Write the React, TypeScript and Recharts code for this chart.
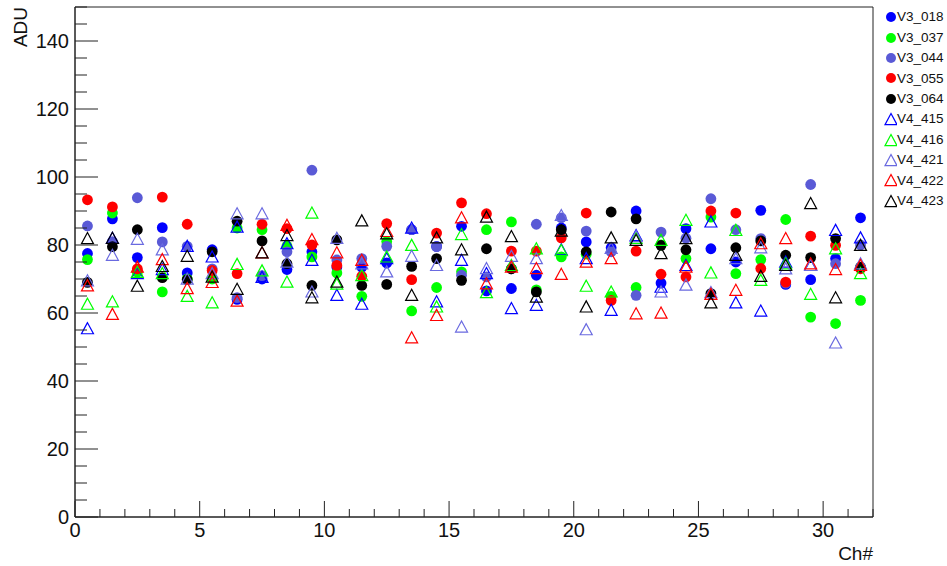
import React from 'react';
import { ScatterChart, Scatter, XAxis, YAxis, ReferenceArea } from 'recharts';

// channel centres (x) and the per-board ADU readings
const channels = [
  0.5, 1.5, 2.5, 3.5, 4.5, 5.5, 6.5, 7.5, 8.5, 9.5, 10.5, 11.5, 12.5, 13.5, 14.5, 15.5,
  16.5, 17.5, 18.5, 19.5, 20.5, 21.5, 22.5, 23.5, 24.5, 25.5, 26.5, 27.5, 28.5, 29.5, 30.5, 31.5,
];

const v3_018 = [77.5, 87.7, 76.3, 85.1, 71.8, 78.6, 64, 70, 72.8, 78, 73.5, 73.5, 74.7, 84.5, 79.6, 85.5, 66.5, 67.2, 71.1, 85, 80.9, 79.2, 90, 68.8, 84.8, 78.9, 75, 90.2, 68.4, 69.8, 76, 88];
const v3_037 = [75.7, 89.4, 72, 66.2, 70, 70, 85, 84.5, 79.7, 76.5, 71.8, 64.9, 81, 60.6, 67.5, 72.1, 84.5, 86.8, 66.8, 76.5, 77.3, 64.9, 67.5, 80, 76, 88.2, 71.6, 75.7, 87.5, 58.8, 56.9, 63.7];
const v3_044 = [85.6, 81, 93.9, 80.9, 79.6, 73, 64.5, 71, 78, 102, 75.6, 76, 79.6, 84.5, 79.5, 71.1, 70.6, 73, 86.1, 88, 84.1, 78, 65.2, 83.8, 82, 93.6, 84.5, 81.9, 68.8, 97.8, 74.5, 80];
const v3_055 = [93.3, 91.2, 73, 94.1, 86.1, 72.5, 71.6, 86.1, 84.8, 80, 74, 70.8, 86.3, 69.8, 83.5, 92.4, 89.2, 78.2, 78.2, 82.1, 89.4, 63.7, 78.2, 71.4, 70.6, 90, 89.4, 73.1, 69.1, 82.6, 79.9, 73];
const v3_064 = [69, 79.5, 84.5, 70.4, 69.8, 78, 87, 81.2, 74.5, 68.1, 81.5, 68.1, 68.4, 73.7, 76, 69.6, 78.9, 73, 66.2, 84.5, 78, 89.7, 87.7, 79.9, 78.6, 65.7, 79.2, 81.2, 77, 76.3, 81.9, 73.5];
const v4_415 = [55.4, 82, 71.6, 72.8, 79.6, 76.5, 85.3, 70.5, 80.4, 75.5, 65.2, 62.6, 76, 85, 63.3, 75.5, 71.6, 61.3, 62.3, 78.6, 76, 60.8, 82.8, 67.6, 74, 86.8, 63, 60.6, 75, 74, 84.3, 82.1];
const v4_416 = [62.6, 63.3, 72, 71.6, 64.9, 63, 74.3, 72.4, 69.1, 89.4, 68.5, 71, 76.5, 79.9, 61.8, 83.1, 66, 74, 78.9, 78.4, 67.9, 66.2, 82, 81.4, 87.3, 71.8, 84.3, 69.6, 74.5, 65.5, 78.9, 71.6];
const v4_421 = [69.5, 77, 81.7, 78.6, 70, 71.6, 89.2, 89.2, 75, 66.2, 82, 74.5, 72.1, 76.7, 74, 55.9, 73.1, 76.7, 76, 88.7, 55.1, 79, 82.5, 66.2, 68.2, 66, 76, 79.2, 73, 74, 51.2, 74.5];
const v4_422 = [68, 59.6, 73.5, 75.7, 67.2, 69, 63.5, 77.7, 85.8, 81.6, 77.7, 75.5, 84, 52.7, 59.3, 88, 68.6, 73.5, 73.1, 71.4, 75, 76, 59.8, 60, 73.5, 65.5, 66.7, 80.4, 81.9, 74.5, 72.8, 74];
const v4_423 = [81.9, 82, 67.9, 73.7, 76.7, 70.6, 67, 77.7, 82.8, 64.5, 69.1, 87.1, 83.3, 65.2, 82.1, 78.6, 88.2, 82.5, 64.7, 84.1, 61.8, 82.1, 81.4, 77.5, 81.9, 63, 77, 70.8, 74, 92.2, 64.5, 79.9];

const xTicks = [0, 1, 2, 3, 4, 5, 6, 7, 8, 9, 10, 11, 12, 13, 14, 15, 16, 17, 18, 19, 20, 21, 22, 23, 24, 25, 26, 27, 28, 29, 30, 31, 32];
const yTicks = [0, 5, 10, 15, 20, 25, 30, 35, 40, 45, 50, 55, 60, 65, 70, 75, 80, 85, 90, 95, 100, 105, 110, 115, 120, 125, 130, 135, 140, 145, 150];

const FONT = '"Liberation Sans", Arial, sans-serif';
const AXIS = '#222';

type Kind = 'circle' | 'triangle';

const series: { name: string; values: number[]; color: string; kind: Kind }[] = [
  { name: 'V3_018', values: v3_018, color: '#0000ff', kind: 'circle' },
  { name: 'V3_037', values: v3_037, color: '#00ff00', kind: 'circle' },
  { name: 'V3_044', values: v3_044, color: '#5a5ad6', kind: 'circle' },
  { name: 'V3_055', values: v3_055, color: '#ff0000', kind: 'circle' },
  { name: 'V3_064', values: v3_064, color: '#000000', kind: 'circle' },
  { name: 'V4_415', values: v4_415, color: '#0000ff', kind: 'triangle' },
  { name: 'V4_416', values: v4_416, color: '#00ff00', kind: 'triangle' },
  { name: 'V4_421', values: v4_421, color: '#6a6ae0', kind: 'triangle' },
  { name: 'V4_422', values: v4_422, color: '#ff0000', kind: 'triangle' },
  { name: 'V4_423', values: v4_423, color: '#000000', kind: 'triangle' },
];

function triPoints(cx: number, cy: number, s: number) {
  return `${cx},${cy - s} ${cx - s},${cy + s * 0.85} ${cx + s},${cy + s * 0.85}`;
}

const makeShape = (color: string, kind: Kind) => (props: any) => {
  const { cx, cy } = props;
  if (cx == null || cy == null) return <g />;
  if (kind === 'circle') return <circle cx={cx} cy={cy} r={5.4} fill={color} />;
  return <polygon points={triPoints(cx, cy, 6)} fill="none" stroke={color} strokeWidth={1.2} />;
};

const XTick = (props: any) => {
  const { x, y, payload } = props;
  const v = payload.value;
  const major = v % 5 === 0;
  return (
    <g>
      <line x1={x} x2={x} y1={y} y2={y - (major ? 16 : 8)} stroke={AXIS} />
      {major && (
        <text x={x} y={y + 20} textAnchor="middle" fontSize={20} fontFamily={FONT} fill="#111">
          {v}
        </text>
      )}
    </g>
  );
};

const YTick = (props: any) => {
  const { x, y, payload } = props;
  const v = payload.value;
  const major = v % 20 === 0;
  return (
    <g>
      <line x1={x} x2={x + (major ? 23 : 12)} y1={y} y2={y} stroke={AXIS} />
      {major && v <= 140 && (
        <text x={x - 6} y={y} dy="0.36em" textAnchor="end" fontSize={20} fontFamily={FONT} fill="#111">
          {v}
        </text>
      )}
    </g>
  );
};

function LegendBox() {
  return (
    <div style={{ position: 'absolute', left: 882, top: 7, width: 65 }}>
      {series.map((s) => (
        <div key={s.name} style={{ display: 'flex', alignItems: 'center', height: 20.4 }}>
          <svg width={15} height={16} style={{ flex: 'none' }}>
            {s.kind === 'circle' ? (
              <circle cx={9} cy={8} r={5} fill={s.color} />
            ) : (
              <polygon points={triPoints(9, 8.5, 6)} fill="none" stroke={s.color} strokeWidth={1.2} />
            )}
          </svg>
          <span style={{ fontFamily: FONT, fontSize: 13.5, color: '#111', lineHeight: 1 }}>{s.name}</span>
        </div>
      ))}
    </div>
  );
}

export default function App() {
  return (
    <div style={{ position: 'absolute', left: 0, top: 0, width: 947, height: 566, background: '#fff' }}>
      <ScatterChart width={947} height={566} margin={{ top: 7, right: 74, bottom: 0, left: 0 }}>
        <XAxis
          type="number"
          dataKey="x"
          domain={[0, 32]}
          ticks={xTicks}
          interval={0}
          height={49}
          tickSize={0}
          tickMargin={0}
          tick={<XTick />}
          axisLine={{ stroke: AXIS }}
          allowDataOverflow
        />
        <YAxis
          type="number"
          dataKey="y"
          domain={[0, 150]}
          ticks={yTicks}
          interval={0}
          width={75}
          tickSize={0}
          tickMargin={0}
          tick={<YTick />}
          axisLine={{ stroke: AXIS }}
          allowDataOverflow
        />
        <ReferenceArea x1={0} x2={32} y1={0} y2={150} fill="none" stroke={AXIS} strokeWidth={1} />
        {series.map((s) => (
          <Scatter
            key={s.name}
            name={s.name}
            data={channels.map((c, i) => ({ x: c, y: s.values[i] }))}
            shape={makeShape(s.color, s.kind)}
            isAnimationActive={false}
          />
        ))}
      </ScatterChart>
      <LegendBox />
      <div
        style={{
          position: 'absolute',
          left: 20,
          top: 27,
          transform: 'translate(-50%, -50%) rotate(-90deg)',
          fontFamily: FONT,
          fontSize: 19,
          lineHeight: 1,
          color: '#111',
        }}
      >
        ADU
      </div>
      <div
        style={{
          position: 'absolute',
          right: 74,
          top: 553,
          transform: 'translateY(-50%)',
          fontFamily: FONT,
          fontSize: 19,
          lineHeight: 1,
          color: '#111',
        }}
      >
        Ch#
      </div>
    </div>
  );
}
